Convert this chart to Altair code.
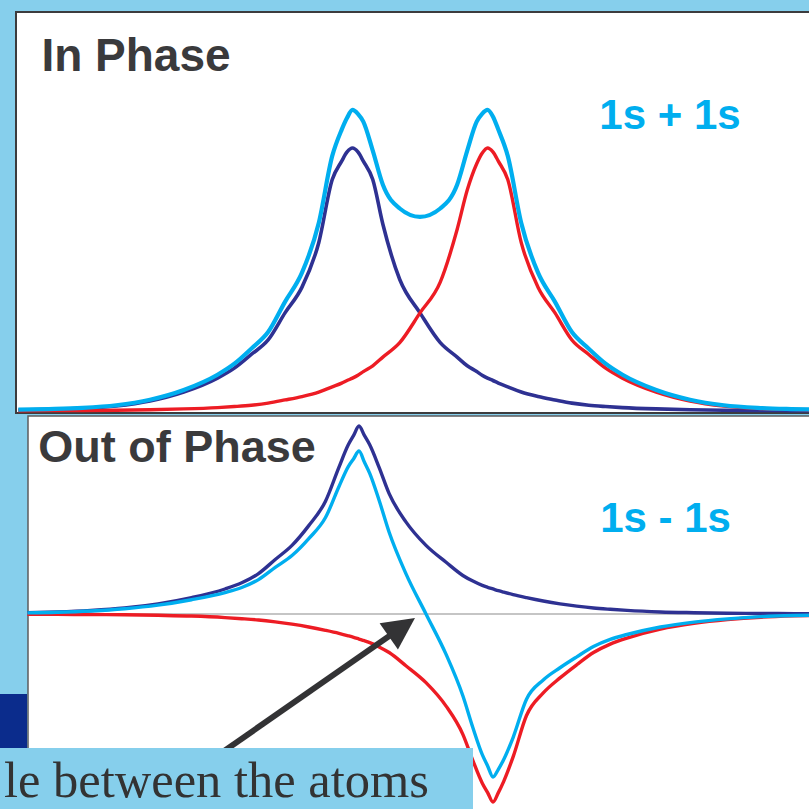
import altair as alt
import pandas as pd

# Positions along the internuclear axis, in units where the nuclei sit at -1 and +1
X_POS = [-5.95, -5.5, -5.0, -4.5, -4.0, -3.5, -3.0, -2.75, -2.5, -2.25, -2.0, -1.75,
         -1.5, -1.3, -1.16, -1.08, -1.0, -0.92, -0.84, -0.7, -0.55, -0.3, 0.0, 0.3,
         0.55, 0.7, 0.84, 0.92, 1.0, 1.08, 1.16, 1.3, 1.5, 1.75, 2.0, 2.25, 2.5,
         2.75, 3.0, 3.5, 4.0, 4.5, 5.0, 5.5, 6.0]

# In phase: 1s on atom A, 1s on atom B, and the combination 1s + 1s
IN_A = [0.004, 0.006, 0.010, 0.019, 0.038, 0.072, 0.125, 0.163, 0.215, 0.27, 0.373, 0.47,
        0.64, 0.88, 0.95, 0.985, 1.0, 0.985, 0.95, 0.88, 0.71, 0.50, 0.373, 0.26,
        0.205, 0.172, 0.15, 0.136, 0.125, 0.116, 0.106, 0.092, 0.072, 0.055, 0.042, 0.030, 0.022,
        0.017, 0.013, 0.008, 0.005, 0.003, 0.002, 0.0015, 0.001]
IN_B = [0.001, 0.0015, 0.002, 0.003, 0.005, 0.008, 0.013, 0.017, 0.022, 0.030, 0.042, 0.055,
        0.072, 0.092, 0.106, 0.116, 0.125, 0.136, 0.15, 0.172, 0.205, 0.26, 0.373, 0.49,
        0.69, 0.84, 0.94, 0.98, 1.0, 0.985, 0.95, 0.88, 0.64, 0.47, 0.373, 0.27, 0.215,
        0.163, 0.125, 0.072, 0.038, 0.019, 0.010, 0.006, 0.004]
IN_SUM = [0.005, 0.0075, 0.012, 0.022, 0.043, 0.080, 0.138, 0.180, 0.237, 0.300, 0.415, 0.525,
          0.715, 0.97, 1.07, 1.115, 1.145, 1.13, 1.10, 0.99, 0.86, 0.77, 0.738, 0.77,
          0.86, 0.99, 1.10, 1.13, 1.145, 1.12, 1.07, 0.97, 0.715, 0.525, 0.415, 0.300, 0.237,
          0.180, 0.138, 0.080, 0.043, 0.022, 0.012, 0.0075, 0.005]

# Out of phase: 1s on atom A, minus 1s on atom B, and the combination 1s - 1s
OUT_A = [0.007, 0.011, 0.019, 0.032, 0.054, 0.087, 0.133, 0.166, 0.215, 0.29, 0.365, 0.47,
         0.60, 0.78, 0.90, 0.95, 1.0, 0.95, 0.90, 0.78, 0.64, 0.49, 0.365, 0.275,
         0.205, 0.175, 0.152, 0.142, 0.133, 0.124, 0.116, 0.103, 0.087, 0.069, 0.054, 0.042, 0.032,
         0.025, 0.019, 0.011, 0.007, 0.004, 0.003, 0.002, 0.001]
OUT_B = [-0.001, -0.002, -0.003, -0.004, -0.007, -0.011, -0.019, -0.025, -0.032, -0.042, -0.054, -0.069,
         -0.087, -0.103, -0.116, -0.124, -0.133, -0.142, -0.152, -0.175, -0.205, -0.275, -0.365, -0.49,
         -0.64, -0.78, -0.90, -0.95, -1.0, -0.95, -0.89, -0.76, -0.54, -0.42, -0.34, -0.27, -0.205,
         -0.16, -0.128, -0.08, -0.05, -0.03, -0.017, -0.01, -0.006]
OUT_DIFF = [0.006, 0.009, 0.016, 0.028, 0.047, 0.076, 0.114, 0.141, 0.183, 0.248, 0.311, 0.401,
            0.513, 0.677, 0.784, 0.826, 0.867, 0.808, 0.748, 0.605, 0.435, 0.215, 0.0, -0.215,
            -0.435, -0.605, -0.748, -0.808, -0.867, -0.826, -0.774, -0.657, -0.453, -0.351, -0.286, -0.228, -0.173,
            -0.135, -0.109, -0.069, -0.043, -0.026, -0.014, -0.008, -0.005]

NAVY = "#2E3192"
RED = "#ED1C24"
CYAN = "#00AEEF"
SKY = "#86CFEC"
INK = "#3A3A3C"
ARROW = "#333335"

# Scales that place each panel on the slide (nuclei at -1 and +1)
TOP_X = alt.Scale(domain=[-1, 1], range=[352.5, 487.5], zero=False, nice=False)
TOP_Y = alt.Scale(domain=[0, 1], range=[411, 148], zero=False, nice=False)
BOT_X = alt.Scale(domain=[-1, 1], range=[359, 493], zero=False, nice=False)
BOT_Y = alt.Scale(domain=[-1, 1], range=[802, 426], zero=False, nice=False)

one = pd.DataFrame({"k": [0]})


def curve(values, xs, ys, color, width):
    df = pd.DataFrame({"r": X_POS, "psi": values})
    return alt.Chart(df).mark_line(
        color=color, strokeWidth=width, interpolate="monotone", strokeJoin="round"
    ).encode(
        x=alt.X("r:Q", scale=xs, axis=None),
        y=alt.Y("psi:Q", scale=ys, axis=None),
    )


def box(x, x2, y, y2, **style):
    return alt.Chart(one).mark_rect(**style).encode(
        x=alt.value(x), x2=alt.value(x2), y=alt.value(y), y2=alt.value(y2)
    )


def label(text, x, y, size, color, font="Liberation Sans", weight="bold", align="center"):
    return alt.Chart(one).mark_text(
        text=text, font=font, fontSize=size, fontWeight=weight, color=color,
        align=align, baseline="alphabetic"
    ).encode(x=alt.value(x), y=alt.value(y))


top = alt.layer(
    box(16, 840, 12, 413, fill="white", stroke="#3C3C3E", strokeWidth=2),
    curve(IN_A, TOP_X, TOP_Y, NAVY, 3.6),
    curve(IN_B, TOP_X, TOP_Y, RED, 3.4),
    curve(IN_SUM, TOP_X, TOP_Y, CYAN, 4.2),
    label("In Phase", 136, 71, 46, INK),
    label("1s + 1s", 670, 129, 42, CYAN),
)

zero_line = alt.Chart(one).mark_rule(color="#8C8C8C", strokeWidth=1.2).encode(
    y=alt.YDatum(0, scale=BOT_Y, axis=None), x=alt.value(28), x2=alt.value(809)
)

# Arrow pointing at the node between the atoms
shaft = alt.Chart(one).mark_rule(color=ARROW, strokeWidth=6).encode(
    x=alt.XDatum(-3.22, scale=BOT_X, axis=None),
    y=alt.YDatum(-0.78, scale=BOT_Y, axis=None),
    x2=alt.datum(-0.54),
    y2=alt.datum(-0.115),
)
head = alt.Chart(one).mark_point(
    shape="M0,-1L1,1L-1,1Z", filled=True, size=1024, angle=55,
    color=ARROW, opacity=1, strokeWidth=0
).encode(
    x=alt.XDatum(-0.36, scale=BOT_X, axis=None),
    y=alt.YDatum(-0.07, scale=BOT_Y, axis=None),
)

bottom = alt.layer(
    box(28, 840, 416, 840, fill="white", stroke="#5C5C5E", strokeWidth=1.5),
    zero_line,
    curve(OUT_A, BOT_X, BOT_Y, NAVY, 3.4),
    curve(OUT_B, BOT_X, BOT_Y, RED, 3.4),
    curve(OUT_DIFF, BOT_X, BOT_Y, CYAN, 3.4),
    shaft,
    head,
    label("Out of Phase", 177, 462, 45, INK),
    label("1s - 1s", 665.5, 532, 42, CYAN),
)

overlay = alt.layer(
    box(0, 27, 694, 748, fill="#0B2C8C"),
    box(0, 473, 748, 840, fill=SKY),
    label("le between the atoms", 4, 797, 50.5, "#333333",
          font="Liberation Serif", weight="normal", align="left"),
)

chart = alt.layer(top, bottom, overlay).resolve_scale(
    x="independent", y="independent"
).properties(
    width=809,
    height=809,
    padding=0,
    autosize=alt.AutoSizeParams(type="none"),
    background=SKY,
).configure_view(stroke=None, fill=SKY)

chart.save("out.html", embed_options={"renderer": "svg", "actions": False})
